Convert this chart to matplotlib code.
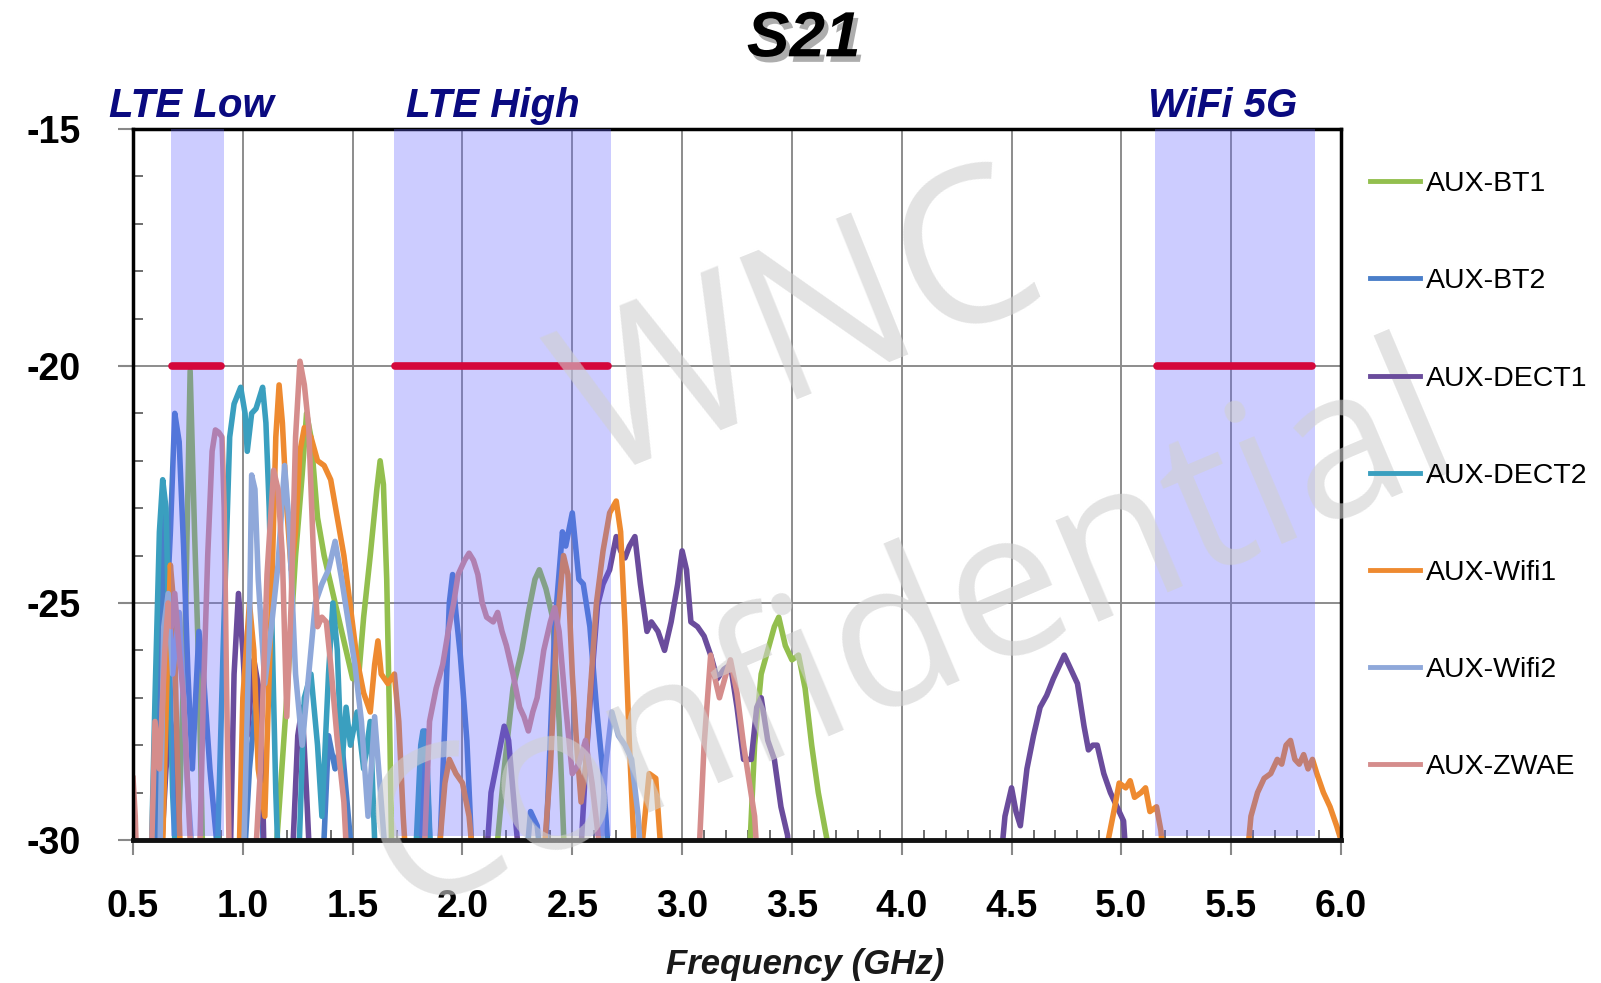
import matplotlib
matplotlib.use("Agg")
import matplotlib.pyplot as plt
import matplotlib.patheffects as pe
from matplotlib.ticker import MultipleLocator

# S21 traces (GHz, dB); -31 marks the trace dropping below the floor
bt1_f = [0.70, 0.74, 0.76, 0.78, 0.80, 0.82,
         1.14, 1.20, 1.24, 1.27, 1.29, 1.31, 1.34, 1.37, 1.42, 1.46, 1.50, 1.53, 1.55, 1.58, 1.61, 1.625, 1.64, 1.655, 1.67, 1.68,
         2.14, 2.19, 2.23, 2.27, 2.30, 2.33, 2.35, 2.38, 2.41, 2.44, 2.47,
         3.30, 3.33, 3.36, 3.39, 3.42, 3.44, 3.47, 3.50, 3.53, 3.56, 3.59, 3.62, 3.64, 3.66, 3.68]
bt1_db = [-31, -25, -20.1, -23.5, -26.5, -31,
          -31, -27, -24, -22.3, -21.0, -21.5, -23.2, -24.0, -25.0, -25.8, -26.6, -26.4, -25.3, -24.0, -22.6, -22.0, -22.5, -24.5, -28, -31,
          -31, -28.5, -26.8, -26.0, -25.2, -24.5, -24.3, -24.7, -25.3, -27.5, -31,
          -31, -28.0, -26.5, -26.0, -25.5, -25.3, -25.9, -26.2, -26.1, -26.8, -28.0, -29.0, -29.5, -30, -31]

bt2_f = [0.60, 0.625, 0.64, 0.655, 0.67, 0.69, 0.71, 0.73, 0.75, 0.77, 0.785, 0.80, 0.82, 0.85, 0.88, 0.90,
         1.00, 1.03, 1.06, 1.08, 1.10,
         1.36, 1.39, 1.42, 1.45, 1.48, 1.51,
         1.80, 1.83, 1.86,
         1.89, 1.92, 1.94, 1.955, 1.97, 1.99, 2.02, 2.05,
         2.28, 2.31, 2.34, 2.37,
         2.39, 2.42, 2.455, 2.47, 2.50, 2.53, 2.55, 2.58, 2.61, 2.64, 2.66, 2.68]
bt2_db = [-31, -26, -23.0, -25.0, -23.5, -21.0, -21.6, -23.8, -26.5, -28.5, -27.0, -25.6, -26.5, -28.5, -30, -31,
          -31, -28.5, -27, -28.5, -31,
          -31, -27.8, -28.5, -27.9, -29.5, -31,
          -31, -27.7, -31,
          -31, -27.5, -25.0, -24.4, -25.2, -26.1, -27.9, -31,
          -31, -29.4, -29.7, -31,
          -29.0, -25.5, -23.5, -23.8, -23.1, -24.5, -24.6, -25.5, -27.2, -28.6, -30, -31]

dect1_f = [0.62, 0.65, 0.67, 0.69, 0.72,
           0.94, 0.96, 0.98, 1.00, 1.02, 1.05, 1.08, 1.10,
           1.22, 1.25, 1.27, 1.29, 1.31,
           2.10, 2.13, 2.16, 2.19, 2.21, 2.24, 2.27,
           2.53, 2.56, 2.59, 2.615, 2.64, 2.67, 2.70, 2.72, 2.74, 2.76, 2.785, 2.81, 2.84, 2.86, 2.89,
           2.92, 2.95, 2.98, 3.00, 3.02, 3.04, 3.07, 3.10, 3.13, 3.16, 3.19, 3.22, 3.25, 3.28, 3.315,
           3.34, 3.36, 3.39, 3.42, 3.45, 3.48, 3.50,
           4.44, 4.47, 4.50, 4.52, 4.54, 4.57, 4.60, 4.63, 4.66, 4.69, 4.72, 4.74, 4.77, 4.80, 4.83,
           4.85, 4.87, 4.89, 4.92, 4.95, 4.98, 5.01, 5.03]
dect1_db = [-31, -28.5, -27.5, -28, -31,
            -31, -26.5, -24.8, -26, -27.8, -26.2, -27, -31,
            -31, -27.8, -27.2, -29, -31,
            -31, -29, -28.3, -27.6, -27.9, -29.5, -31,
            -31, -28.5, -26.5, -25.05, -24.6, -24.3, -23.6, -23.9, -24.05, -23.8, -23.6, -24.6, -25.6, -25.4, -25.6,
            -26.0, -25.4, -24.6, -23.9, -24.3, -25.4, -25.5, -25.7, -26.1, -26.6, -26.4, -26.3, -27.2, -28.3, -28.3,
            -27.2, -27.0, -27.9, -28.3, -29.3, -29.9, -31,
            -31, -29.5, -28.9, -29.4, -29.7, -28.5, -27.8, -27.2, -26.95, -26.6, -26.3, -26.1, -26.4, -26.7, -27.6,
            -28.1, -28.0, -28.0, -28.6, -29.0, -29.3, -29.6, -31]

dect2_f = [0.58, 0.60, 0.62, 0.635, 0.65, 0.665, 0.68, 0.70,
           0.88, 0.91, 0.94, 0.96, 0.99, 1.01, 1.02, 1.04, 1.06, 1.08, 1.09, 1.105, 1.12, 1.135, 1.15, 1.165,
           1.25, 1.28, 1.31, 1.34, 1.36, 1.39, 1.41, 1.43, 1.45, 1.47, 1.49, 1.52, 1.55, 1.58, 1.60, 1.62,
           1.78, 1.81, 1.82, 1.84, 1.86]
dect2_db = [-31, -27, -23.5, -22.4, -23.0, -26, -29, -31,
            -31, -26, -21.5, -20.8, -20.45, -21.0, -21.8, -21.0, -20.9, -20.6, -20.45, -21.2, -23, -26, -29, -31,
            -31, -27, -26.5, -28, -29.5, -26.5, -25.0, -26, -28.5, -27.2, -28, -27.3, -28.5, -27.5, -30, -31,
            -31, -28, -27.7, -28.5, -31]

wifi1_f = [0.63, 0.655, 0.67, 0.685, 0.70, 0.72,
           0.98, 1.00, 1.03, 1.05, 1.07, 1.10, 1.13, 1.15, 1.165, 1.18, 1.20, 1.22, 1.24, 1.26, 1.28, 1.31,
           1.34, 1.37, 1.40, 1.43, 1.46, 1.49, 1.52, 1.55, 1.58, 1.60, 1.615, 1.63, 1.66, 1.69, 1.71, 1.73, 1.75,
           1.88, 1.92, 1.94, 1.97, 2.00, 2.03, 2.06,
           2.36, 2.40, 2.43, 2.46, 2.48, 2.50, 2.52, 2.54, 2.56, 2.58, 2.61, 2.64, 2.67, 2.70, 2.72, 2.74,
           2.76, 2.78, 2.80, 2.82, 2.85, 2.88, 2.90, 2.92,
           4.91, 4.94, 4.97, 4.99, 5.02, 5.04, 5.06, 5.09, 5.11, 5.13, 5.16, 5.18, 5.20,
           5.56, 5.59, 5.62, 5.65, 5.68, 5.71, 5.73, 5.75, 5.77, 5.79, 5.81, 5.83, 5.85, 5.87, 5.89,
           5.92, 5.95, 5.98, 6.00]
wifi1_db = [-31, -26.5, -24.2, -25, -28, -31,
            -31, -27, -25.0, -26, -28.5, -29.5, -25, -21.5, -20.4, -21.2, -23, -24.3, -23.5, -21.8, -21.3, -21.5,
            -22.0, -22.1, -22.4, -23.2, -24.0, -25.1, -26.2, -26.9, -27.3, -26.3, -25.8, -26.5, -26.7, -26.5, -27.5, -29.5, -31,
            -31, -28.8, -28.3, -28.6, -28.8, -29.5, -31,
            -31, -28.5, -25.5, -24.0, -24.4, -26.5, -28, -29.2, -28.5, -27.0, -25.0, -23.9, -23.1, -22.85, -23.5, -25.5,
            -28.0, -30, -30.5, -30, -28.6, -28.7, -30, -31,
            -31, -30, -29.3, -28.8, -28.9, -28.75, -29.1, -29.0, -28.9, -29.4, -29.3, -29.8, -31,
            -31, -29.5, -29.0, -28.7, -28.6, -28.3, -28.4, -28.0, -27.9, -28.3, -28.4, -28.2, -28.5, -28.3, -28.6,
            -29.0, -29.3, -29.7, -30]

wifi2_f = [0.62, 0.64, 0.66, 0.68, 0.71, 0.73, 0.75, 0.78,
           1.00, 1.03, 1.04, 1.055, 1.07, 1.10, 1.13, 1.16, 1.19, 1.21, 1.24, 1.27, 1.30,
           1.33, 1.36, 1.39, 1.42, 1.45, 1.48, 1.51, 1.54, 1.57, 1.60, 1.63, 1.66,
           2.62, 2.65, 2.68, 2.71, 2.74, 2.77, 2.80, 2.82]
wifi2_db = [-31, -25.5, -24.8, -26.5, -25.2, -27, -29, -31,
            -31, -25.5, -22.3, -22.6, -24.5, -26.7, -25.5, -24.2, -22.1, -23.3, -26.5, -28, -26.5,
            -25.0, -24.6, -24.3, -23.7, -24.5, -25.4, -26.3, -27.5, -29.5, -27.4, -29.2, -31,
            -31, -28.5, -27.3, -27.8, -28.0, -28.3, -29.5, -31]

zwae_f = [0.50, 0.51, 0.52,
          0.58, 0.60, 0.62, 0.645, 0.66, 0.675, 0.69, 0.71, 0.73, 0.75, 0.77,
          0.80, 0.82, 0.84, 0.86, 0.875, 0.89, 0.905, 0.915, 0.925, 0.94,
          1.05, 1.08, 1.11, 1.14, 1.16, 1.18, 1.20, 1.22, 1.24, 1.26, 1.28, 1.30, 1.32, 1.34, 1.36,
          1.38, 1.40, 1.43, 1.46, 1.48,
          1.82, 1.85, 1.88, 1.91, 1.935, 1.96, 1.98, 2.01, 2.03, 2.05, 2.07, 2.09, 2.11, 2.14, 2.16, 2.18,
          2.20, 2.23, 2.26, 2.28, 2.30, 2.32, 2.34, 2.37, 2.40, 2.42, 2.44, 2.47, 2.50, 2.53, 2.56, 2.59,
          2.62, 2.64,
          3.07, 3.10, 3.13, 3.15, 3.17, 3.20, 3.22, 3.25, 3.28, 3.30, 3.33, 3.35]
zwae_db = [-28.7, -29.5, -31,
           -31, -27.5, -28.5, -26, -25, -25.5, -24.8, -26, -27, -29, -31,
           -31, -27, -24, -21.8, -21.35, -21.4, -21.5, -23, -26.5, -31,
           -31, -28.5, -24.4, -22.2, -22.6, -24, -27.4, -25, -21.5, -19.9, -20.4, -21.3, -23.8, -25.5, -25.3,
           -25.4, -26.3, -27.9, -29.2, -31,
           -31, -27.5, -26.8, -26.3, -25.6, -25.0, -24.4, -24.1, -23.95, -24.1, -24.4, -25.0, -25.3, -25.4, -25.2, -25.6,
           -25.9, -26.5, -27.2, -27.4, -27.7, -27.3, -27.0, -26.0, -25.4, -25.1, -25.6, -27.2, -28.6, -28.4, -27.9, -28.8,
           -30, -31,
           -31, -28.0, -26.1, -26.6, -27.0, -26.5, -26.2, -26.9, -28.0, -28.6, -29.5, -31]

series = [
    ("AUX-BT1", bt1_f, bt1_db, "#93bf4e"),
    ("AUX-BT2", bt2_f, bt2_db, "#4a7ec9"),
    ("AUX-DECT1", dect1_f, dect1_db, "#6a4c9c"),
    ("AUX-DECT2", dect2_f, dect2_db, "#3a9fbf"),
    ("AUX-Wifi1", wifi1_f, wifi1_db, "#ee8a30"),
    ("AUX-Wifi2", wifi2_f, wifi2_db, "#8fa8da"),
    ("AUX-ZWAE", zwae_f, zwae_db, "#d58d8c"),
]

# frequency bands and the -20 dB limit
band_names = ["LTE Low", "LTE High", "WiFi 5G"]
band_lo = [0.672, 1.687, 5.155]
band_hi = [0.916, 2.678, 5.88]
limit_db = -20

fig = plt.figure(figsize=(16.01, 9.83), dpi=100)
ax = fig.add_axes([0.0831, 0.1455, 0.7545, 0.7233])

handles = []
for name, f, db, col in series:
    ln, = ax.plot(f, db, color=col, lw=4.0, label=name, zorder=2, solid_joinstyle="round")
    handles.append(ln)

for lo, hi in zip(band_lo, band_hi):
    ax.axvspan(lo, hi, ymin=0.006, ymax=1, color="#6666ff", alpha=0.33, lw=0, zorder=3)
    ax.plot([lo + 0.006, hi - 0.014], [limit_db, limit_db], color="#d4083c", lw=5.5,
            solid_capstyle="round", zorder=4)

ax.set_xlim(0.5, 6.0)
ax.set_ylim(-30, -15)
ax.xaxis.set_major_locator(MultipleLocator(0.5))
ax.xaxis.set_minor_locator(MultipleLocator(0.1))
ax.yaxis.set_major_locator(MultipleLocator(5))
ax.yaxis.set_minor_locator(MultipleLocator(1))
ax.xaxis.set_major_formatter(plt.FuncFormatter(lambda v, p: f"{v:.1f}"))
ax.yaxis.set_major_formatter(plt.FuncFormatter(lambda v, p: f"{v:.0f}"))

ax.grid(which="major", color="#8c8c8c", lw=1.4, zorder=1)
ax.set_axisbelow(True)
ax.tick_params(which="major", direction="out", length=11, width=1.5, color="#888888",
               labelsize=27, pad=24)
ax.tick_params(axis="y", which="major", pad=27)
ax.tick_params(which="minor", direction="in", length=7, width=1.2, color="#555555")
for lab in ax.get_xticklabels() + ax.get_yticklabels():
    lab.set_fontfamily("Liberation Sans")
    lab.set_fontweight("bold")

for side in ["left", "top", "right"]:
    ax.spines[side].set_linewidth(2.5)
    ax.spines[side].set_color("black")
ax.spines["bottom"].set_linewidth(3.5)
ax.spines["bottom"].set_color("#111111")

# watermark
ax.text(0.555, 0.71, "WNC", transform=ax.transAxes, fontsize=155, family="Open Sans",
        color="#d0d0d0", alpha=0.6, rotation=22, ha="center", va="center", zorder=6)
ax.text(0.645, 0.285, "Confidential", transform=ax.transAxes, fontsize=148, family="Open Sans",
        color="#d0d0d0", alpha=0.6, rotation=23, ha="center", va="center", zorder=6)

# band labels above the plot
for name, x in zip(band_names, [109, 406, 1148]):
    fig.text(x / 1601, 1 - 117 / 983, name, fontsize=29, fontweight="bold", fontstyle="italic",
             family="Liberation Sans", color="#0a0a80", ha="left", va="baseline")

fig.text(0.502, 0.960, "S21", fontsize=46, fontweight="bold", fontstyle="italic",
         family="Liberation Sans", ha="center", va="center",
         path_effects=[pe.withSimplePatchShadow(offset=(3, -4), shadow_rgbFace="#777777", alpha=0.6)])
fig.text(0.503, 0.019, "Frequency (GHz)", fontsize=25, fontweight="bold", fontstyle="italic",
         family="Liberation Sans", color="#1a1a1a", ha="center", va="center")

fig.legend(handles=handles, loc="center left", bbox_to_anchor=(0.84, 0.516), frameon=False,
           prop={"family": "Liberation Sans", "size": 20.5}, handlelength=1.75, handletextpad=0.2,
           labelspacing=2.5)
for lh in fig.legends[0].get_lines():
    lh.set_linewidth(3.5)

fig.savefig("out.png", dpi=100)
